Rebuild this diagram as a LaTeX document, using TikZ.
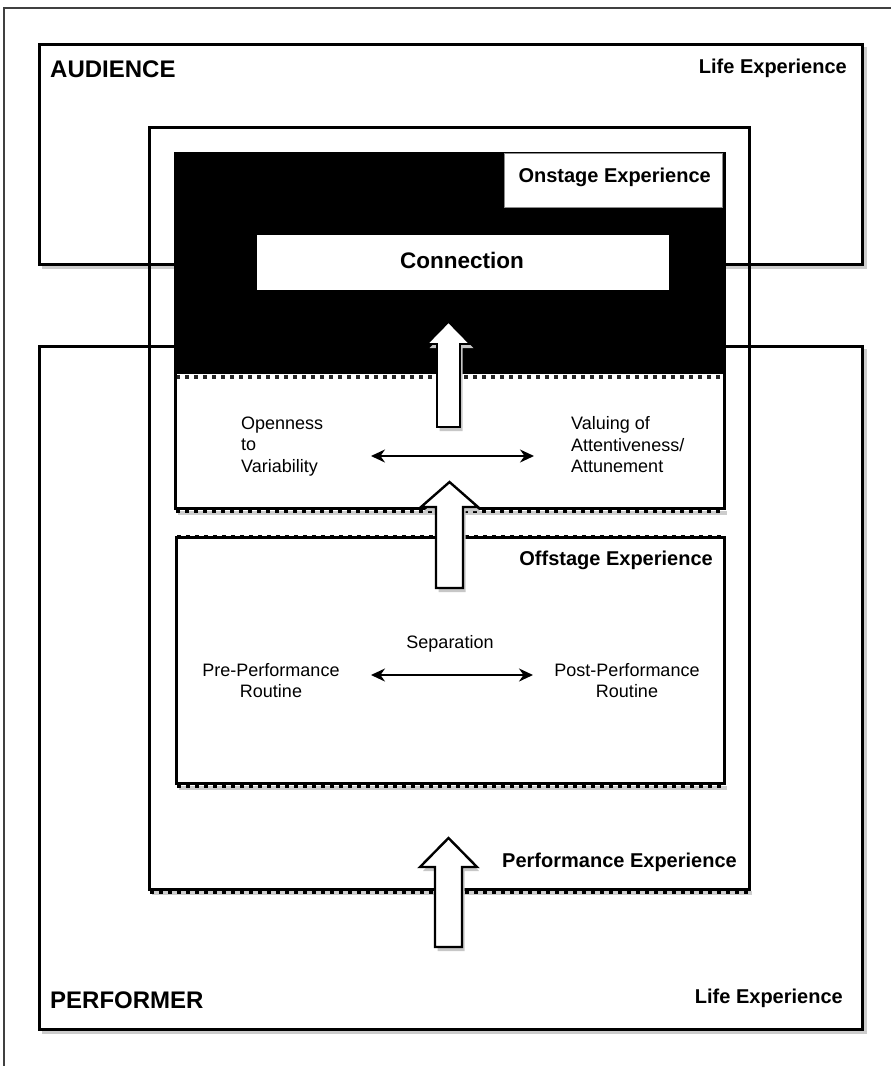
\documentclass[tikz,border=0pt]{standalone}
\usepackage{fontspec}
\setmainfont{Liberation Sans}
\usetikzlibrary{arrows.meta}
\begin{document}
\begin{tikzpicture}[x=1pt,y=-1pt,
  frameline/.style={draw=black!75,line width=1.5pt},
  boxline/.style={draw=black,line width=2.6pt},
  teeth/.style={draw=black,line width=4pt,dash pattern=on 4pt off 5pt},
  shade/.style={draw=black!20,line width=4pt},
  blockarr/.style={draw=black,line width=2.4pt,fill=white,line join=miter},
  arrshade/.style={fill=black!22,draw=none},
  dbl/.style={draw=black,line width=2.2pt,{Stealth[length=14pt,width=13pt]}-{Stealth[length=14pt,width=13pt]}},
  lbl/.style={font=\fontsize{20}{24}\selectfont\bfseries,inner sep=0pt},
  big/.style={font=\fontsize{24}{28}\selectfont\bfseries,inner sep=0pt},
  txt/.style={font=\fontsize{18}{21.5}\selectfont,inner sep=0pt}
]
\useasboundingbox (0,0) rectangle (891,1066);

% outer frame
\coordinate (ftl) at (4,8);
\coordinate (ftr) at (891,8);
\coordinate (fbl) at (4,1066);
\draw[frameline] (ftr) -- (ftl) -- (fbl);

% shadows of the large boxes
\draw[shade] (42,267) -- (865,267) -- (865,47);
\draw[shade] (42,1032) -- (865,1032) -- (865,349);

% Audience and Performer boxes
\node[boxline,minimum width=823pt,minimum height=220pt,anchor=north west,inner sep=0pt] (aud) at (38,43) {};
\node[boxline,minimum width=823pt,minimum height=683pt,anchor=north west,inner sep=0pt] (perfr) at (38,345) {};

% Performance experience box
\draw[shade] (152,893) -- (752,893);
\draw[teeth] (150,891.5) -- (748,891.5);
\node[boxline,minimum width=600pt,minimum height=762pt,anchor=north west,inner sep=0pt] (perfx) at (148,126) {};

% Onstage experience box
\fill[white] (174,152) rectangle (723,507);
\fill[black] (174,152) rectangle (723,374);
\draw[teeth,draw=black!85] (176,376.5) -- (723,376.5);
\draw[shade] (178,513) -- (727,513);
\draw[teeth] (176,510.5) -- (723,510.5);
\node[boxline,minimum width=549pt,minimum height=355pt,anchor=north west,inner sep=0pt] (onstage) at (174,152) {};

% Onstage label box
\node[fill=white,draw=black!45,line width=0.8pt,minimum width=218pt,minimum height=54pt,anchor=north west,inner sep=0pt] (onlbl) at (504,153) {};
% Connection box
\node[fill=white,minimum width=412pt,minimum height=55pt,anchor=north west,inner sep=0pt] (conn) at (257,235) {};

% Offstage experience box
\fill[white] (175,536) rectangle (723,782);
\draw[shade] (179,788) -- (727,788);
\draw[teeth] (177,785.5) -- (723,785.5);
\node[boxline,minimum width=548pt,minimum height=246pt,anchor=north west,inner sep=0pt] (offst) at (175,536) {};
\draw[teeth,line width=3.5pt] (177,537) -- (723,537);

% block arrows (shadow, then arrow)
\fill[arrshade] (439.5,431) -- (439.5,348) -- (429.5,348) -- (451.5,326) -- (473.5,348) -- (462.5,348) -- (462.5,431) -- cycle;
\draw[blockarr,line width=1.6pt] (437,427) -- (437,344) -- (427,344) -- (448.5,322) -- (470,344) -- (460,344) -- (460,427) -- cycle;

\fill[arrshade] (438.5,592) -- (438.5,511) -- (424,511) -- (452,486) -- (480,511) -- (465.5,511) -- (465.5,592) -- cycle;
\draw[blockarr] (436,588) -- (436,507) -- (421,507) -- (449.5,482) -- (478,507) -- (463,507) -- (463,588) -- cycle;

\fill[arrshade] (437.5,951) -- (437.5,871) -- (423,871) -- (451,842) -- (479,871) -- (464.5,871) -- (464.5,951) -- cycle;
\draw[blockarr] (435,947) -- (435,867) -- (420,867) -- (448.5,838) -- (477,867) -- (462,867) -- (462,947) -- cycle;

% double arrows
\coordinate (d1l) at (371,456);
\coordinate (d1r) at (534,456);
\draw[dbl] (d1l) -- (d1r);
\coordinate (d2l) at (371,675);
\coordinate (d2r) at (533,675);
\draw[dbl] (d2l) -- (d2r);

% texts
\node[big,anchor=base west] (audt) at (50,77) {AUDIENCE};
\node[lbl,anchor=base east] (lifetop) at (847,73) {Life Experience};
\node[lbl,anchor=base east] (ont) at (711,182) {Onstage Experience};
\node[font=\fontsize{22.5}{26}\selectfont\bfseries,inner sep=0pt,anchor=base] (connt) at (462,268) {Connection};
\node[txt,align=left,anchor=north west] (open) at (241,416.5) {Openness\\to\\Variability};
\node[txt,align=left,anchor=north west] (valu) at (571,416.5) {Valuing of\\Attentiveness/\\Attunement};
\node[lbl,anchor=base east] (offt) at (713,565) {Offstage Experience};
\node[txt,anchor=base] (sep) at (450,648) {Separation};
\node[txt,align=center,anchor=north] (pre) at (271,663) {Pre-Performance\\Routine};
\node[txt,align=center,anchor=north] (post) at (627,663) {Post-Performance\\Routine};
\node[lbl,anchor=base east] (perft) at (737,867) {Performance Experience};
\node[big,anchor=base west] (perfmt) at (50,1008) {PERFORMER};
\node[lbl,anchor=base east] (lifebot) at (843,1003) {Life Experience};
\end{tikzpicture}
\end{document}
